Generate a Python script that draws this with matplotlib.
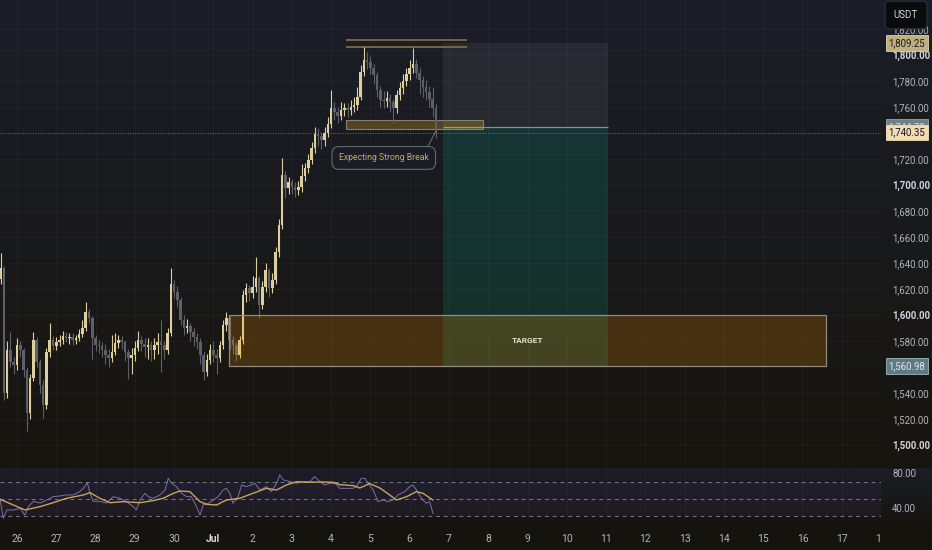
import numpy as np
import matplotlib.pyplot as plt
from matplotlib.colors import LinearSegmentedColormap, to_rgba
from matplotlib.patches import Rectangle

plt.rcParams['font.family'] = ['Roboto', 'DejaVu Sans']

# 2h candles, x measured in days from 26 Jun 00:00
first_candle = -5 / 12
candle_step = 1 / 12
open_first = 1628.0
close = [1636.2, 1540.0, 1573.1, 1563.8, 1561.5, 1576.9, 1573.1, 1557.7, 1524.6, 1551.5,
         1580.8, 1563.8, 1546.2, 1530.8, 1571.5, 1580.8, 1576.2, 1579.2, 1580.8, 1583.8,
         1582.3, 1583.1, 1580.8, 1582.3, 1585.4, 1590.0, 1602.3, 1597.7, 1582.3, 1576.9,
         1576.2, 1573.1, 1569.2, 1566.9, 1571.5, 1578.5, 1580.8, 1579.2, 1571.5, 1566.9,
         1569.2, 1574.6, 1580.8, 1577.7, 1575.4, 1576.9, 1573.1, 1576.9, 1579.2, 1576.9,
         1573.1, 1586.2, 1623.8, 1617.7, 1611.5, 1596.2, 1590.0, 1591.5, 1586.9, 1583.1,
         1579.2, 1569.2, 1556.2, 1565.4, 1573.1, 1569.2, 1566.9, 1576.9, 1592.3, 1597.7,
         1580.8, 1576.9, 1569.2, 1580.8, 1615.4, 1620.8, 1616.9, 1621.5, 1628.5, 1607.7,
         1621.5, 1634.6, 1620.8, 1626.9, 1648.5, 1669.2, 1707.7, 1697.7, 1702.3, 1698.5,
         1696.2, 1698.5, 1706.9, 1713.1, 1719.2, 1728.5, 1739.2, 1737.7, 1734.6, 1740.0,
         1746.9, 1759.2, 1756.2, 1753.1, 1757.7, 1759.2, 1757.7, 1760.0, 1761.5, 1767.7,
         1786.9, 1796.2, 1794.6, 1790.0, 1784.6, 1773.1, 1765.4, 1764.6, 1766.9, 1763.8,
         1759.2, 1769.2, 1774.6, 1780.0, 1785.4, 1790.0, 1793.1, 1786.2, 1780.8, 1775.4,
         1771.5, 1766.2, 1759.2, 1740.35]
high = [1648, 1638, 1580, 1587, 1568, 1582, 1580, 1575, 1560, 1555,
        1587, 1583, 1566, 1550, 1575, 1594, 1584, 1583, 1585, 1588,
        1587, 1586, 1586, 1585, 1589, 1596, 1610, 1605, 1599, 1585,
        1581, 1579, 1578, 1574, 1585, 1586, 1585, 1584, 1581, 1574,
        1575, 1580, 1588, 1584, 1582, 1582, 1580, 1582, 1586, 1596,
        1580, 1590, 1636, 1627, 1622, 1614, 1600, 1597, 1594, 1590,
        1586, 1582, 1572, 1570, 1578, 1580, 1574, 1580, 1596, 1602,
        1599, 1584, 1579, 1584, 1619, 1625, 1623, 1630, 1645, 1630,
        1626, 1640, 1636, 1632, 1652, 1674, 1721, 1711, 1706, 1705,
        1702, 1703, 1716, 1717, 1724, 1733, 1745, 1744, 1741, 1745,
        1752, 1773, 1764, 1760, 1764, 1763, 1763, 1765, 1768, 1775,
        1792, 1806, 1802, 1799, 1793, 1787, 1776, 1772, 1772, 1770,
        1766, 1773, 1779, 1785, 1790, 1796, 1805, 1797, 1790, 1784,
        1781, 1776, 1775, 1762]
low = [1624, 1535, 1536, 1560, 1555, 1558, 1568, 1552, 1511, 1520,
       1549, 1560, 1540, 1521, 1528, 1568, 1573, 1573, 1576, 1578,
       1579, 1578, 1577, 1578, 1580, 1583, 1588, 1594, 1566, 1572,
       1571, 1568, 1562, 1560, 1564, 1569, 1575, 1574, 1565, 1551,
       1555, 1565, 1572, 1572, 1568, 1566, 1565, 1566, 1570, 1556,
       1566, 1570, 1584, 1613, 1606, 1592, 1585, 1586, 1580, 1576,
       1574, 1562, 1550, 1553, 1562, 1564, 1555, 1564, 1574, 1588,
       1574, 1570, 1565, 1567, 1578, 1610, 1611, 1613, 1618, 1598,
       1605, 1618, 1614, 1617, 1624, 1645, 1666, 1690, 1693, 1693,
       1691, 1692, 1695, 1703, 1709, 1716, 1725, 1730, 1728, 1730,
       1737, 1744, 1750, 1748, 1750, 1753, 1752, 1754, 1756, 1758,
       1765, 1784, 1789, 1785, 1778, 1768, 1760, 1759, 1760, 1756,
       1748, 1755, 1765, 1770, 1776, 1781, 1786, 1782, 1770, 1768,
       1765, 1760, 1752, 1736]

# RSI and its moving average (days, value)
rsi_day = [-0.43, -0.35, -0.26, -0.09, 0.08, 0.20, 0.29, 0.42, 0.59, 0.76,
           0.92, 1.09, 1.26, 1.43, 1.60, 1.73, 1.79, 1.86, 1.94, 2.11,
           2.28, 2.45, 2.62, 2.79, 2.96, 3.04, 3.13, 3.26, 3.34, 3.47,
           3.64, 3.77, 3.85, 3.94, 4.06, 4.19, 4.32, 4.44, 4.57, 4.66,
           4.74, 4.87, 5.00, 5.12, 5.25, 5.33, 5.42, 5.50, 5.63, 5.72,
           5.84, 5.97, 6.06, 6.18, 6.27, 6.35, 6.48, 6.61, 6.69, 6.78,
           6.95, 7.12, 7.29, 7.46, 7.58, 7.71, 7.84, 7.96, 8.13, 8.22,
           8.39, 8.56, 8.64, 8.77, 8.86, 8.94, 9.07, 9.19, 9.32, 9.45,
           9.58, 9.70, 9.87, 10.00, 10.08, 10.17, 10.30, 10.42, 10.51, 10.59]
rsi_val = [50.0, 27.4, 37.2, 37.2, 39.1, 31.3, 41.1, 47.3, 45.3, 48.8,
           52.7, 53.5, 54.7, 54.7, 58.6, 64.4, 69.1, 56.6, 47.3, 47.3,
           45.3, 52.7, 50.8, 46.9, 41.1, 37.2, 48.8, 56.6, 52.7, 50.8,
           54.7, 60.5, 74.1, 68.3, 64.4, 56.6, 52.7, 52.7, 41.1, 31.3,
           43.0, 45.0, 48.8, 52.7, 60.5, 62.4, 56.6, 45.0, 52.7, 66.3,
           64.4, 66.3, 68.3, 60.5, 62.4, 64.4, 58.6, 68.3, 78.0, 72.2,
           70.2, 68.3, 70.2, 70.2, 76.1, 70.2, 66.3, 68.3, 67.5, 62.4,
           62.4, 62.4, 64.4, 74.1, 74.1, 68.3, 60.5, 47.0, 48.8, 47.0,
           48.8, 54.7, 58.6, 64.4, 66.3, 60.5, 50.8, 45.0, 46.9, 33.3]
ma_day = [-0.43, -0.09, 0.20, 0.59, 0.92, 1.26, 1.69, 1.86, 2.11, 2.37,
          2.71, 3.13, 3.47, 3.72, 3.98, 4.15, 4.40, 4.66, 4.83, 5.08,
          5.33, 5.67, 6.01, 6.35, 6.61, 6.86, 7.12, 7.37, 7.71, 8.05,
          8.22, 8.56, 8.73, 8.98, 9.24, 9.49, 9.66, 9.92, 10.17, 10.34, 10.59]
ma_val = [49.6, 43.0, 37.2, 41.1, 45.7, 50.8, 54.7, 57.4, 50.8, 45.7,
          46.9, 45.7, 48.1, 50.8, 56.6, 59.3, 58.6, 46.9, 43.8, 43.0,
          48.8, 50.8, 56.6, 62.4, 60.5, 66.3, 70.2, 69.5, 69.8, 69.5,
          66.7, 65.6, 62.8, 67.9, 62.8, 54.7, 48.8, 52.7, 58.6, 56.6, 48.8]

day_labels = ['26', '27', '28', '29', '30', 'Jul', '2', '3', '4', '5', '6', '7',
              '8', '9', '10', '11', '12', '13', '14', '15', '16', '17', '18']
# 1,560 and 1,740 sit under the price tags, so the scale leaves them out
price_ticks = [1500, 1520, 1540, 1580, 1600, 1620, 1640, 1660, 1680, 1700,
               1720, 1760, 1780, 1800, 1820]
rsi_ticks = [40, 80]

# drawings on the chart (days / prices)
stop_price = 1809.25
entry_price = 1744.7
target_price = 1560.98
last_price = 1740.35
position_days = (10.84, 15.06)
target_zone = (1560.98, 1600.0)
target_days = (5.39, 20.59)
support_zone = (1743.1, 1750.0)
support_days = (8.37, 11.86)
top_lines = [1806.5, 1811.5]
top_days = (8.37, 11.45)

W, H = 932, 550
fig = plt.figure(figsize=(W / 100, H / 100), dpi=100, facecolor='#15130e')


def px_axes(x0, y0, x1, y1):
    return fig.add_axes([x0 / W, 1 - y1 / H, (x1 - x0) / W, (y1 - y0) / H])


def gradient(axb, top, bottom):
    cmap = LinearSegmentedColormap.from_list('bg', [bottom, top])
    axb.imshow(np.linspace(0, 1, 256).reshape(-1, 1), cmap=cmap, aspect='auto',
               extent=[0, 1, 0, 1], origin='lower')
    axb.axis('off')


gradient(px_axes(0, 0, W, 467), '#1b1e28', '#17150f')
ax = px_axes(0, 0, 881, 467)
gradient(px_axes(0, 468, W, 522), '#1b1e28', '#16140f')
rax = px_axes(0, 468, 881, 522)

xlim = (-0.4326, 21.985)
label_col = '#b2b5be'

# ---- main pane
ax.set_facecolor('none')
ax.set_xlim(xlim)
ax.set_ylim(1483.1, 1842.3)
for s in ax.spines.values():
    s.set_visible(False)
ax.set_xticks(range(len(day_labels)))
ax.tick_params(axis='x', labelbottom=False, length=0)
ax.yaxis.tick_right()
ax.set_yticks(price_ticks, [f'{p:,.2f}' for p in price_ticks])
ax.tick_params(axis='y', length=0, pad=8, labelsize=6.9, labelcolor=label_col)
for lab, p in zip(ax.get_yticklabels(), price_ticks):
    if p % 100 == 0:
        lab.set_fontweight('bold')
        lab.set_color('#d1d4dc')
ax.grid(color='white', alpha=0.03, lw=0.8)

# candles
c = np.array(close)
o = np.array([open_first] + close[:-1])
t = first_candle + np.arange(len(c)) * candle_step
cols = np.where(c >= o, '#dfcf9f', '#5d6068')
ax.vlines(t, low, high, colors=cols, lw=0.8, zorder=4)
ax.bar(t, np.maximum(np.abs(c - o), 0.8), bottom=np.minimum(o, c), width=0.065,
       color=cols, lw=0, zorder=4)

# long/short position tool
ax.add_patch(Rectangle((position_days[0], entry_price), position_days[1] - position_days[0],
                       stop_price - entry_price, fc=to_rgba('#787b86', 0.15), lw=0, zorder=2))
ax.add_patch(Rectangle((position_days[0], target_price), position_days[1] - position_days[0],
                       entry_price - target_price, fc=to_rgba('#089981', 0.2), lw=0, zorder=2))
ax.hlines(entry_price, *position_days, color='#8a8d96', lw=0.9, zorder=3)

# target zone
ax.add_patch(Rectangle((target_days[0], target_zone[0]), target_days[1] - target_days[0],
                       target_zone[1] - target_zone[0], fc=to_rgba('#ff9800', 0.2),
                       ec=to_rgba('#9d978a', 0.9), lw=0.9, zorder=5))
ax.text(sum(target_days) / 2, sum(target_zone) / 2, 'TARGET', color='#e6dcc4',
        fontsize=6, fontweight='bold', ha='center', va='center', zorder=6)

# support zone and double-top lines
ax.add_patch(Rectangle((support_days[0], support_zone[0]), support_days[1] - support_days[0],
                       support_zone[1] - support_zone[0], fc=to_rgba('#e6b422', 0.27),
                       ec=to_rgba('#8f8a78', 0.9), lw=0.8, zorder=3))
for lvl in top_lines:
    ax.hlines(lvl, *top_days, color='#806b3e', lw=1.3, zorder=3)

ax.axhline(last_price, color='#8e919a', lw=0.6, ls=(0, (1, 2)), zorder=1)

ax.annotate('Expecting Strong Break', xy=(10.66, 1741), xytext=(9.34, 1720.8),
            color='#c8a66a', fontsize=6.2, ha='center', va='center', zorder=7,
            bbox=dict(boxstyle='round,pad=0.8,rounding_size=0.8', fc='#1b1d24', ec='#66686f', lw=0.8),
            arrowprops=dict(arrowstyle='-', color='#66686f', lw=0.8, relpos=(0.95, 1.0),
                            shrinkA=0, shrinkB=0))

# price scale tags
ytr = ax.get_yaxis_transform()
tags = [(stop_price, '#bfae80', '#1a1a1a', '#e0d3a8'),
        (entry_price, '#6f8084', '#d8d8d8', '#9aa8aa'),
        (last_price, '#f0dcb0', '#131722', '#f0dcb0'),
        (target_price, '#5e7b81', '#e4e6ea', '#9fb7bb')]
for price, fc, tc, ec in tags:
    ax.text(1.0085, price, f'{price:,.2f}', transform=ytr, color=tc, fontsize=6.9,
            ha='left', va='center', clip_on=False, zorder=8,
            bbox=dict(boxstyle='square,pad=0.3', fc=fc, ec=ec, lw=0.6))

fig.text(906 / W, 1 - 15 / H, 'USDT', color='#d1d4dc', fontsize=7, ha='center', va='center',
         bbox=dict(boxstyle='round,pad=0.9,rounding_size=0.4', fc='#0b0b0d', ec='#2e3139', lw=0.8))

# ---- RSI pane
rax.set_facecolor('none')
rax.set_xlim(xlim)
rax.set_ylim(23.2, 86.1)
for s in rax.spines.values():
    s.set_visible(False)
rax.axhspan(30, 70, color='#7e57c2', alpha=0.08, lw=0)
for lvl in [30, 50, 70]:
    rax.axhline(lvl, color='#787b86', lw=0.7, ls=(0, (4, 4)))
rax.plot(rsi_day, rsi_val, color='#7e6fb0', lw=0.7)
rax.plot(ma_day, ma_val, color='#c9a657', lw=1.0)
rax.yaxis.tick_right()
rax.set_yticks(rsi_ticks, [f'{v:.2f}' for v in rsi_ticks])
rax.tick_params(axis='y', length=0, pad=8, labelsize=6.9, labelcolor=label_col)
rax.set_xticks(range(len(day_labels)), day_labels)
rax.tick_params(axis='x', length=0, pad=9, labelsize=7.5, labelcolor=label_col)
for lab in rax.get_xticklabels():
    if lab.get_text() == 'Jul':
        lab.set_fontweight('bold')
        lab.set_color('#d1d4dc')
rax.grid(axis='x', color='white', alpha=0.03, lw=0.8)

# price scale hides the last date label
fig.patches.append(Rectangle((881 / W, 0), 1, 1 - 522 / H, transform=fig.transFigure,
                             fc='#15130e', lw=0, zorder=10))

fig.savefig('out.png', dpi=100, facecolor=fig.get_facecolor())
